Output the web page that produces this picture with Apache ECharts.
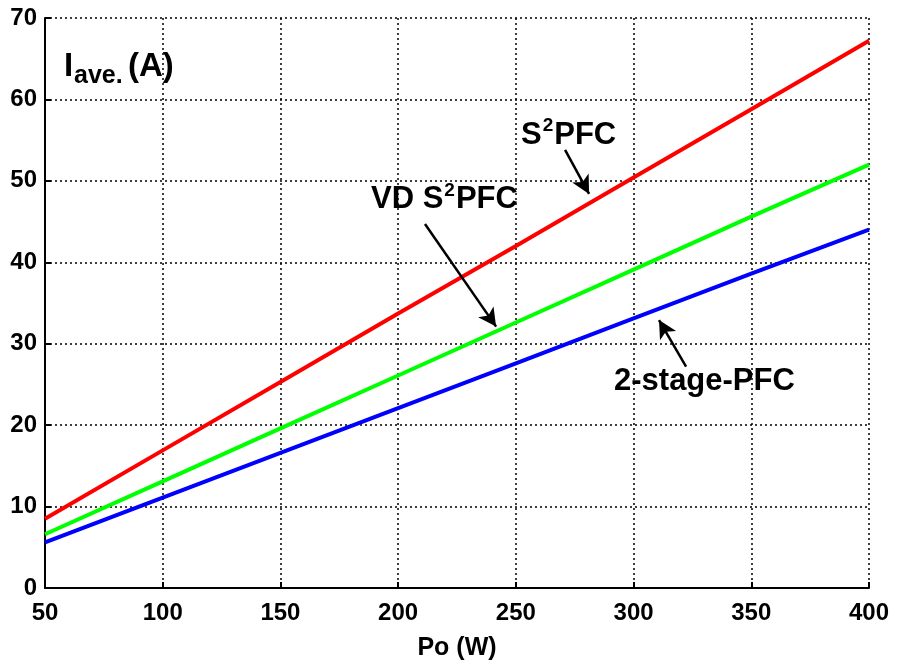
<!DOCTYPE html>
<html>
<head>
<meta charset="utf-8">
<script src="https://cdn.jsdelivr.net/npm/echarts@6/dist/echarts.min.js"></script>
<style>
  html, body { margin: 0; padding: 0; background: #fff; }
  #chart { width: 897px; height: 666px; }
</style>
</head>
<body>
<div id="chart"></div>
<script>
// Output power (W)
const power = [50, 100, 150, 200, 250, 300, 350, 400];
// Average current (A) for each topology
const s2pfc = [8.5, 16.9, 25.3, 33.7, 42.0, 50.4, 58.8, 67.2];
const vdS2pfc = [6.6, 13.1, 19.6, 26.1, 32.6, 39.1, 45.6, 52.0];
const twoStage = [5.6, 11.1, 16.6, 22.1, 27.6, 33.1, 38.6, 44.0];

// Callout arrows, [start, tip] in data coordinates
const arrowS2pfc = [[270.9, 53.8], [281.1, 48.4]];
const arrowVd = [[211.4, 44.7], [241.6, 32.1]];
const arrowTwoStage = [[322.3, 27.2], [310.8, 32.9]];

const FONT = 'Liberation Sans, Arial, sans-serif';

const pairs = (xs, ys) => xs.map((x, i) => [x, ys[i]]);

const chart = echarts.init(document.getElementById('chart'));

const dotted = { color: '#000', width: 1.5, type: [2, 3] };

// rich styles for callouts with a superscript "2"
const calloutRich = {
  b: { fontFamily: FONT, fontWeight: 'bold', fontSize: 31, color: '#000', lineHeight: 34, verticalAlign: 'bottom' },
  sup: { fontFamily: FONT, fontWeight: 'bold', fontSize: 19, color: '#000', lineHeight: 34, verticalAlign: 'top', padding: [0, 1, 0, 1] }
};

chart.setOption({
  animation: false,
  backgroundColor: '#fff',
  grid: { left: 45, right: 28, top: 18, bottom: 76, containLabel: false },
  xAxis: {
    type: 'value',
    min: 50, max: 400, interval: 50,
    name: 'Po (W)',
    nameLocation: 'middle',
    nameGap: 48,
    nameTextStyle: { fontFamily: FONT, fontWeight: 'bold', fontSize: 25, color: '#000' },
    axisLine: { show: true, onZero: false, lineStyle: { color: '#000', width: 2 } },
    axisTick: { show: true, inside: true, length: 6, lineStyle: { color: '#000', width: 2 } },
    axisLabel: { fontFamily: FONT, fontWeight: 'bold', fontSize: 24, color: '#000', margin: 13 },
    splitLine: { show: true, lineStyle: dotted }
  },
  yAxis: {
    type: 'value',
    min: 0, max: 70, interval: 10,
    axisLine: { show: true, onZero: false, lineStyle: { color: '#000', width: 2 } },
    axisTick: { show: true, inside: true, length: 6, lineStyle: { color: '#000', width: 2 } },
    axisLabel: { fontFamily: FONT, fontWeight: 'bold', fontSize: 24, color: '#000', margin: 8 },
    splitLine: { show: true, lineStyle: dotted }
  },
  series: [
    {
      name: 'S2PFC', type: 'line', data: pairs(power, s2pfc),
      showSymbol: false, lineStyle: { color: '#ff0000', width: 4 }, z: 3,
      markLine: {
        silent: true,
        symbol: ['none', 'arrow'],
        symbolSize: [14, 18],
        label: { show: false },
        lineStyle: { color: '#000', width: 2.5, type: 'solid' },
        data: [
          [{ coord: arrowS2pfc[0] }, { coord: arrowS2pfc[1] }],
          [{ coord: arrowVd[0] }, { coord: arrowVd[1] }],
          [{ coord: arrowTwoStage[0] }, { coord: arrowTwoStage[1] }]
        ]
      }
    },
    {
      name: 'VD S2PFC', type: 'line', data: pairs(power, vdS2pfc),
      showSymbol: false, lineStyle: { color: '#00ff00', width: 4 }, z: 3
    },
    {
      name: '2-stage-PFC', type: 'line', data: pairs(power, twoStage),
      showSymbol: false, lineStyle: { color: '#0000ff', width: 4 }, z: 3
    }
  ],
  graphic: [
    { type: 'text', x: 64, y: 67, z: 10,
      style: { text: 'I', fontFamily: FONT, fontWeight: 'bold', fontSize: 33, fill: '#000', align: 'left', verticalAlign: 'middle' } },
    { type: 'text', x: 74, y: 76.5, z: 10,
      style: { text: 'ave.', fontFamily: FONT, fontWeight: 'bold', fontSize: 25, fill: '#000', align: 'left', verticalAlign: 'middle' } },
    { type: 'text', x: 128, y: 67, z: 10,
      style: { text: '(A)', fontFamily: FONT, fontWeight: 'bold', fontSize: 33, fill: '#000', align: 'left', verticalAlign: 'middle' } },
    { type: 'text', x: 521, y: 133.5, z: 10,
      style: { text: '{b|S}{sup|2}{b|PFC}', rich: calloutRich, align: 'left', verticalAlign: 'middle' } },
    { type: 'text', x: 371, y: 198, z: 10,
      style: { text: '{b|VD S}{sup|2}{b|PFC}', rich: calloutRich, align: 'left', verticalAlign: 'middle' } },
    { type: 'text', x: 614, y: 381, z: 10,
      style: { text: '2-stage-PFC', fontFamily: FONT, fontWeight: 'bold', fontSize: 31, fill: '#000', align: 'left', verticalAlign: 'middle' } }
  ]
});
</script>
</body>
</html>
